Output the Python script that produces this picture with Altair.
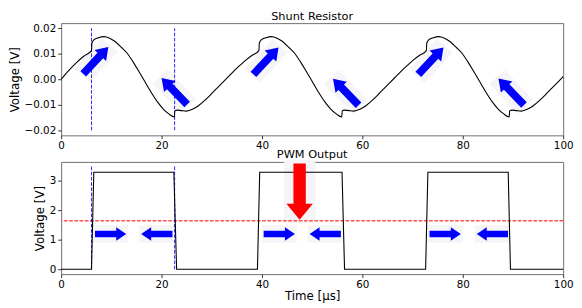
import altair as alt
import pandas as pd

# ---- Shunt resistor waveform (time in µs, voltage in V)
shunt_t = [0, 1.5, 3.0, 4.5, 6.05,
           6.13, 6.55, 7.45, 8.55, 9.65, 10.75, 11.95, 13.15, 14.35, 15.55, 16.75, 17.95, 19.15, 20.35, 21.45, 22.55,
           22.63, 23.15, 23.95, 24.95, 26.15, 27.35, 28.55, 29.75, 30.95, 32.15, 33.25, 34.45, 35.65, 36.85, 38.05, 39.4,
           39.48, 39.9, 40.8, 41.9, 43.0, 44.1, 45.3, 46.5, 47.7, 48.9, 50.1, 51.3, 52.5, 53.7, 54.8, 55.9,
           55.98, 56.5, 57.3, 58.3, 59.5, 60.7, 61.9, 63.1, 64.3, 65.5, 66.6, 67.8, 69.0, 70.2, 71.4, 72.75,
           72.83, 73.25, 74.15, 75.25, 76.35, 77.45, 78.65, 79.85, 81.05, 82.25, 83.45, 84.65, 85.85, 87.05, 88.15, 89.25,
           89.33, 89.85, 90.65, 91.65, 92.85, 94.05, 95.25, 96.45, 97.65, 98.85, 100.0]
shunt_v = [0.0, 0.0034, 0.0064, 0.0090, 0.0112,
           0.0142, 0.0155, 0.0163, 0.0167, 0.0161, 0.0148, 0.0126, 0.0102, 0.0067, 0.0028, -0.0012, -0.0052, -0.0088, -0.0117, -0.0136, -0.0148,
           -0.0124, -0.0121, -0.0123, -0.0125, -0.0118, -0.0104, -0.0084, -0.0061, -0.0037, -0.0013, 0.0009, 0.0033, 0.0055, 0.0076, 0.0094, 0.0112,
           0.0142, 0.0155, 0.0163, 0.0167, 0.0161, 0.0148, 0.0126, 0.0102, 0.0067, 0.0028, -0.0012, -0.0052, -0.0088, -0.0117, -0.0136, -0.0148,
           -0.0124, -0.0121, -0.0123, -0.0125, -0.0118, -0.0104, -0.0084, -0.0061, -0.0037, -0.0013, 0.0009, 0.0033, 0.0055, 0.0076, 0.0094, 0.0112,
           0.0142, 0.0155, 0.0163, 0.0167, 0.0161, 0.0148, 0.0126, 0.0102, 0.0067, 0.0028, -0.0012, -0.0052, -0.0088, -0.0117, -0.0136, -0.0148,
           -0.0124, -0.0121, -0.0123, -0.0125, -0.0118, -0.0104, -0.0084, -0.0061, -0.0037, -0.0013, 0.0010]

# ---- PWM output
pwm_t = [0, 6.05, 6.5, 22.45, 23.0, 39.1, 39.55, 55.95, 56.45, 72.6, 73.05, 89.05, 89.5, 100]
pwm_v = [0, 0, 3.3, 3.3, 0, 0, 3.3, 3.3, 0, 0, 3.3, 3.3, 0, 0]

edge_t = [6.05, 22.6]
threshold = [1.65]

# ---- annotation arrows (centre positions, direction in degrees)
diag_t = [6.9, 22.55, 40.8, 56.7, 73.65, 89.65]
diag_v = [0.0074, -0.0047, 0.0072, -0.0050, 0.0072, -0.0049]
diag_a = [313, 226, 313, 226, 313, 226]

horiz_t = [9.85, 19.05, 43.45, 52.6, 76.5, 85.9]
horiz_v = [1.2, 1.2, 1.2, 1.2, 1.2, 1.2]
horiz_a = [0, 180, 0, 180, 0, 180]

red_t = [47.5]
red_v = [2.64]
red_a = [90]

titles = ["Shunt Resistor", "PWM Output"]
x_ticks = [0, 20, 40, 60, 80, 100]
top_ticks = [-0.02, -0.01, 0.0, 0.01, 0.02]
bot_ticks = [0, 1, 2, 3]

W, H = 510, 114
FONT = "DejaVu Sans"

ARROW = "M -1 -0.21 L 0.36 -0.21 L 0.36 -0.43 L 1 0 L 0.36 0.43 L 0.36 0.21 L -1 0.21 Z"
RED_ARROW = "M -1 -0.22 L 0.43 -0.22 L 0.43 -0.47 L 1 0 L 0.43 0.47 L 0.43 0.22 L -1 0.22 Z"
BOX = "M -1.12 -0.56 L 1.12 -0.56 L 1.12 0.56 L -1.12 0.56 Z"

shunt_df = pd.DataFrame({"t": shunt_t, "v": shunt_v})
pwm_df = pd.DataFrame({"t": pwm_t, "v": pwm_v})
vl_top = pd.DataFrame({"t": edge_t, "v": [-0.02] * 2, "v2": [0.02] * 2})
vl_bot = pd.DataFrame({"t": edge_t, "v": [0.0] * 2, "v2": [3.5] * 2})
thr_df = pd.DataFrame({"v": threshold})
diag_df = pd.DataFrame({"t": diag_t, "v": diag_v, "a": diag_a})
horiz_df = pd.DataFrame({"t": horiz_t, "v": horiz_v, "a": horiz_a})
red_df = pd.DataFrame({"t": red_t, "v": red_v, "a": red_a})

xs = alt.Scale(domain=[0, 100], nice=False, zero=False)
ys_top = alt.Scale(domain=[-0.022, 0.022], nice=False, zero=False)
ys_bot = alt.Scale(domain=[-0.165, 3.65], nice=False, zero=False)

x_top = alt.X("t:Q", scale=xs, axis=alt.Axis(values=x_ticks, format="d", title=None, labelFlush=False))
x_bot = alt.X("t:Q", scale=xs, axis=alt.Axis(values=x_ticks, format="d", title="Time [μs]",
                                             labelFlush=False, titlePadding=1))
y_top = alt.Y("v:Q", scale=ys_top, axis=alt.Axis(values=top_ticks, format=".2f", title="Voltage [V]", labelFlush=False))
y_bot = alt.Y("v:Q", scale=ys_bot, axis=alt.Axis(values=bot_ticks, format="d", title="Voltage [V]", labelFlush=False))


def arrows(df, x, y, shape, size, color):
    bg = alt.Chart(df).mark_point(shape=BOX, filled=True, fill="#f5f5f7", strokeWidth=0,
                                  opacity=1, size=size).encode(
        x=x, y=y, angle=alt.Angle("a:Q", scale=None))
    fg = alt.Chart(df).mark_point(shape=shape, filled=True, fill=color, strokeWidth=0,
                                  opacity=1, size=size).encode(
        x=x, y=y, angle=alt.Angle("a:Q", scale=None))
    return bg, fg


def panel_title(text, dy):
    return alt.Chart(pd.DataFrame({"s": [text]})).mark_text(
        font=FONT, fontSize=11.5, color="black", align="center", baseline="alphabetic"
    ).encode(x=alt.value(W / 2), y=alt.value(dy), text="s:N")


d_bg, d_fg = arrows(diag_df, x_top, y_top, ARROW, 1400, "#0000ff")
h_bg, h_fg = arrows(horiz_df, x_bot, y_bot, ARROW, 1010, "#0000ff")
r_bg, r_fg = arrows(red_df, x_bot, y_bot, RED_ARROW, 3250, "#ff0000")

top_lines = alt.Chart(vl_top).mark_rule(color="#2626ff", strokeWidth=1, strokeDash=[3.7, 1.6]).encode(
    x=x_top, y=y_top, y2="v2:Q")
top_curve = alt.Chart(shunt_df).mark_line(color="black", strokeWidth=1.1, interpolate="monotone").encode(
    x=x_top, y=y_top)

top = alt.layer(d_bg, top_lines, top_curve, d_fg, panel_title(titles[0], -3)).properties(
    width=W, height=H)

bot_lines = alt.Chart(vl_bot).mark_rule(color="#2626ff", strokeWidth=1, strokeDash=[3.7, 1.6]).encode(
    x=x_bot, y=y_bot, y2="v2:Q")
thr_line = alt.Chart(thr_df).mark_rule(color="#ff5050", strokeWidth=1.4, strokeDash=[3.7, 1.6]).encode(
    y=y_bot)
pwm_line = alt.Chart(pwm_df).mark_line(color="black", strokeWidth=1.1).encode(x=x_bot, y=y_bot)

bottom = alt.layer(h_bg, r_bg, thr_line, bot_lines, pwm_line, h_fg, r_fg,
                   panel_title(titles[1], -4)).properties(width=W, height=H)

chart = alt.vconcat(top, bottom, spacing=27, bounds="flush").properties(
    padding={"left": 0, "top": 0, "right": 0, "bottom": 0}
).configure(font=FONT).configure_view(
    stroke="#6e6e6e", strokeWidth=1
).configure_axis(
    grid=False, domain=False, tickColor="black", tickSize=3.5, tickWidth=0.8,
    labelFont=FONT, labelFontSize=10.5, labelColor="black", labelPadding=2,
    titleFont=FONT, titleFontSize=12, titleFontWeight="normal", titleColor="black",
    titlePadding=2.5
)

chart.save("out.html", embed_options={"renderer": "svg", "actions": False})
